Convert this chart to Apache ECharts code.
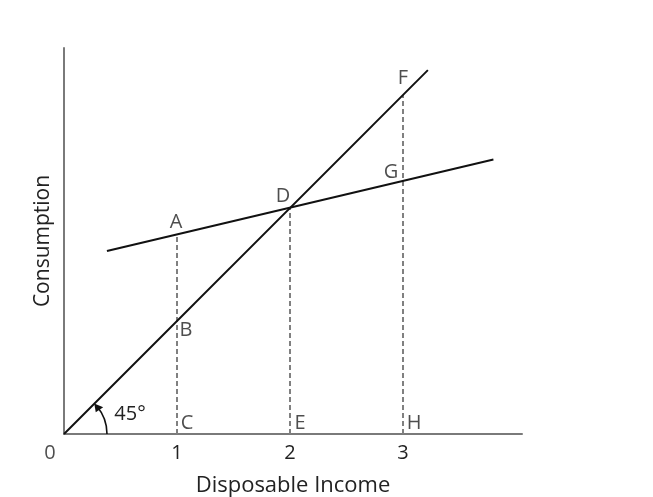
<!DOCTYPE html>
<html><head><meta charset="utf-8">
<script src="https://cdn.jsdelivr.net/npm/echarts@6/dist/echarts.min.js"></script>
<style>html,body{margin:0;padding:0;background:#fff}#c{width:653px;height:497px}</style>
</head><body><div id="c"></div>
<script>
// ---- data ----
const xTickValues = [0, 1, 2, 3];
const line45 = [[0, 0], [3.22, 3.22]];
const consumptionLine = [[0.38, 1.62], [3.80, 2.43]];
const pointNames = ['A', 'B', 'C', 'D', 'E', 'F', 'G', 'H'];
const pointValues = [[1, 1.77], [1, 1], [1, 0], [2, 2], [2, 0], [3, 3], [3, 2.24], [3, 0]];
const dropLines = [
  [[1, 0], [1, 1.77]],
  [[2, 0], [2, 2]],
  [[3, 0], [3, 3]]
];
const angleLabel = '45°';
const originLabel = '0';
const xTitle = 'Disposable Income';
const yTitle = 'Consumption';

// ---- styling ----
const labelOffsets = {A: [-1, -12], B: [9, 9], C: [10, -11], D: [-7, -12], E: [10, -11], F: [0, -17], G: [-12, -9], H: [11, -11]};
const FONT = 'Open Sans';
const TXT = '#222';
const FS = 20;

const series = [];
dropLines.forEach(seg => series.push({
  type: 'line', data: seg, symbol: 'none', silent: true, z: 1,
  lineStyle: {color: '#808080', width: 2, type: [5, 3]}
}));
series.push({type: 'line', data: line45, symbol: 'none', z: 3, lineStyle: {color: '#111', width: 2}});
series.push({type: 'line', data: consumptionLine, symbol: 'none', z: 3, lineStyle: {color: '#111', width: 2}});
series.push({
  type: 'scatter', symbolSize: 0, z: 5,
  data: pointValues.map((v, i) => ({
    value: v, name: pointNames[i],
    label: {show: true, position: 'inside', formatter: pointNames[i], offset: labelOffsets[pointNames[i]],
      color: TXT, fontFamily: FONT, fontSize: FS}
  })).concat([{value: [0, 0], name: originLabel,
    label: {show: true, position: 'inside', formatter: originLabel, offset: [-14, 19], color: TXT, fontFamily: FONT, fontSize: FS}}])
});
series.push({
  type: 'custom', z: 4, data: [[0, 0]],
  renderItem: function (params, api) {
    const c = api.coord([api.value(0), api.value(1)]);
    const r = 43;
    const a0 = -0.70;
    const tip = -0.79, base = -0.60;
    const tx = c[0] + r * Math.cos(tip), ty = c[1] + r * Math.sin(tip);
    const b1x = c[0] + (r - 4.5) * Math.cos(base), b1y = c[1] + (r - 4.5) * Math.sin(base);
    const b2x = c[0] + (r + 4.5) * Math.cos(base), b2y = c[1] + (r + 4.5) * Math.sin(base);
    return {type: 'group', children: [
      {type: 'arc', shape: {cx: c[0], cy: c[1], r: r, startAngle: a0, endAngle: 0, clockwise: true},
        style: {stroke: '#111', lineWidth: 1.6, fill: null}},
      {type: 'polygon', shape: {points: [[tx, ty], [b1x, b1y], [b2x, b2y]]}, style: {fill: '#111'}},
      {type: 'text', x: c[0] + 66, y: c[1] - 20,
        style: {text: angleLabel, fill: TXT, font: FS + 'px "' + FONT + '"', align: 'center', verticalAlign: 'middle'}}
    ]};
  }
});

const chart = echarts.init(document.getElementById('c'), null, {renderer: 'canvas'});
chart.setOption({
  animation: false,
  grid: {left: 64, right: 131, top: 48, bottom: 63, containLabel: false, outerBoundsMode: 'none'},
  xAxis: {
    type: 'value', min: 0, max: 4.053, interval: 1,
    axisLine: {show: true, onZero: false, lineStyle: {color: '#7a7a7a', width: 2}},
    axisTick: {show: false}, splitLine: {show: false},
    axisLabel: {margin: 9, color: TXT, fontFamily: FONT, fontSize: FS,
      formatter: v => (xTickValues.indexOf(v) > 0 ? String(v) : '')},
    name: xTitle, nameLocation: 'middle', nameGap: 41,
    nameTextStyle: {color: TXT, fontFamily: FONT, fontSize: 22}
  },
  yAxis: {
    type: 'value', min: 0, max: 3.416,
    axisLine: {show: true, onZero: false, lineStyle: {color: '#7a7a7a', width: 2}},
    axisTick: {show: false}, splitLine: {show: false}, axisLabel: {show: false},
    name: yTitle, nameLocation: 'middle', nameGap: 10, nameRotate: 90,
    nameTextStyle: {color: TXT, fontFamily: FONT, fontSize: 21}
  },
  series: series
});
</script></body></html>
